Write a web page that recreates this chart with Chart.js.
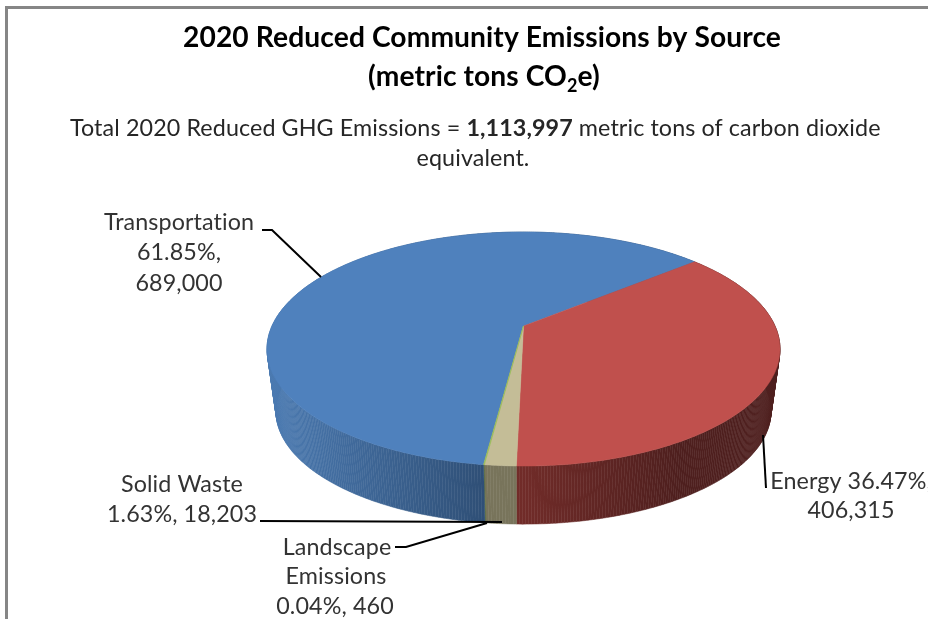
<!DOCTYPE html>
<html>
<head>
<meta charset="utf-8">
<title>2020 Reduced Community Emissions by Source</title>
<script src="https://cdn.jsdelivr.net/npm/chart.js@4/dist/chart.umd.min.js"></script>
<style>
  html, body { margin: 0; padding: 0; background: #fff; overflow: hidden; }
  #wrap { position: relative; width: 928px; height: 619px; overflow: hidden; }
  #frame { position: absolute; left: 5px; top: 6px; width: 940px; height: 640px; border: 3px solid #868686; }
  canvas { position: absolute; left: 0; top: 0; }
</style>
</head>
<body>
<div id="wrap">
  <div id="frame"></div>
  <canvas id="myChart" width="928" height="619"></canvas>
</div>
<script>
// data, clockwise from the red slice
const categories = ['Energy', 'Solid Waste', 'Landscape Emissions', 'Transportation'];
const emissions = [406315, 18203, 460, 689000];
const percents = ['36.47%', '1.63%', '0.04%', '61.85%'];

const topColors = ['#C0504D', '#C4BD97', '#9BBB59', '#4F81BD'];
const wallColors = [['#722c29', '#4e1f1e'], ['#78745b', '#78745b'], ['#5d6e34', '#5d6e34'], ['#2f4f76', '#4a79b0']];
const wallStops = [[517, 680], [484, 517], [484, 486], [484, 275]];

const fontName = 'Lato, "Open Sans", sans-serif';
const centerX = 523.5;
const topY = 326;
const bottomY = 389;
const depthScale = 0.965;

// the pie is seen in perspective, so the centre sits above the middle of the ellipse
function project(angle, scale, centerY) {
  const u = Math.cos(angle);
  const v = Math.sin(angle);
  const w = 1 - 0.1966 * v;
  return {
    x: centerX + scale * 251.5 * u / w,
    y: centerY + scale * 112.5 * v / w
  };
}

function traceRim(ctx, from, to) {
  const steps = Math.max(2, Math.ceil(Math.abs(to - from) / 0.01));
  for (let i = 0; i <= steps; i++) {
    const p = project(from + (to - from) * i / steps, 1, topY);
    ctx.lineTo(p.x, p.y);
  }
}

const pie3d = {
  id: 'pie3d',
  beforeDatasetsDraw(chart) {
    const ctx = chart.ctx;
    const arcs = chart.getDatasetMeta(0).data;
    ctx.save();

    // side walls first, one small quad per step so the silhouette stays closed
    arcs.forEach((arc, i) => {
      const grad = ctx.createLinearGradient(wallStops[i][0], 0, wallStops[i][1], 0);
      grad.addColorStop(0, wallColors[i][0]);
      grad.addColorStop(1, wallColors[i][1]);
      ctx.fillStyle = grad;
      ctx.strokeStyle = grad;
      ctx.lineWidth = 0.5;
      const steps = Math.max(1, Math.ceil((arc.endAngle - arc.startAngle) / 0.01));
      for (let s = 0; s < steps; s++) {
        const a = arc.startAngle + (arc.endAngle - arc.startAngle) * s / steps;
        const b = arc.startAngle + (arc.endAngle - arc.startAngle) * (s + 1) / steps;
        const p1 = project(a, 1, topY);
        const p2 = project(b, 1, topY);
        const p3 = project(b, depthScale, bottomY);
        const p4 = project(a, depthScale, bottomY);
        ctx.beginPath();
        ctx.moveTo(p1.x, p1.y);
        ctx.lineTo(p2.x, p2.y);
        ctx.lineTo(p3.x, p3.y);
        ctx.lineTo(p4.x, p4.y);
        ctx.closePath();
        ctx.fill();
        ctx.stroke();
      }
    });

    // top face, big slices first so the thin one stays visible
    const order = arcs.map((a, i) => i).sort((a, b) => emissions[b] - emissions[a]);
    order.forEach(i => {
      ctx.beginPath();
      ctx.moveTo(centerX, topY);
      traceRim(ctx, arcs[i].startAngle, arcs[i].endAngle);
      ctx.closePath();
      ctx.fillStyle = topColors[i];
      ctx.strokeStyle = topColors[i];
      ctx.lineWidth = i === 2 ? 0.7 : 0.5;
      ctx.fill();
      ctx.stroke();
    });

    ctx.restore();
    return false;
  }
};

function leader(ctx, points) {
  ctx.beginPath();
  points.forEach((p, i) => i ? ctx.lineTo(p[0], p[1]) : ctx.moveTo(p[0], p[1]));
  ctx.stroke();
}

const annotations = {
  id: 'annotations',
  afterDraw(chart) {
    const ctx = chart.ctx;
    const fmt = v => v.toLocaleString('en-US');
    ctx.save();
    ctx.letterSpacing = '0.1px'; // keeps the "ti" ligature out
    ctx.textBaseline = 'alphabetic';
    ctx.textAlign = 'center';

    // title
    ctx.fillStyle = '#000';
    ctx.font = 'bold 28.2px ' + fontName;
    ctx.fillText('2020 Reduced Community Emissions by Source', 482, 47);
    ctx.textAlign = 'left';
    ctx.fillText('(metric tons CO', 368, 86);
    let x = 368 + ctx.measureText('(metric tons CO').width;
    ctx.font = 'bold 18px ' + fontName;
    ctx.fillText('2', x, 92);
    x += ctx.measureText('2').width;
    ctx.font = 'bold 28.2px ' + fontName;
    ctx.fillText('e)', x, 86);

    // subtitle with the bold total
    ctx.fillStyle = '#262626';
    ctx.font = '23.3px ' + fontName;
    const before = 'Total 2020 Reduced GHG Emissions = ';
    const after = ' metric tons of carbon dioxide';
    ctx.fillText(before, 70, 136);
    x = 70 + ctx.measureText(before).width;
    ctx.font = 'bold 23.3px ' + fontName;
    ctx.fillText('1,113,997', x, 136);
    x += ctx.measureText('1,113,997').width;
    ctx.font = '23.3px ' + fontName;
    ctx.fillText(after, x, 136);
    ctx.textAlign = 'center';
    ctx.fillText('equivalent.', 473, 166);

    // data labels
    ctx.fillStyle = '#333';
    ctx.fillText(categories[3], 179, 230);
    ctx.fillText(percents[3] + ',', 179, 260);
    ctx.fillText(fmt(emissions[3]), 179, 291);

    ctx.fillText(categories[0] + ' ' + percents[0] + ',', 851, 489);
    ctx.fillText(fmt(emissions[0]), 851, 518);

    ctx.fillText(categories[1], 182, 492);
    ctx.fillText(percents[1] + ', ' + fmt(emissions[1]), 182, 522);

    const words = categories[2].split(' ');
    ctx.fillText(words[0], 337, 555);
    ctx.fillText(words[1], 336, 584);
    ctx.fillText(percents[2] + ', ' + fmt(emissions[2]), 335, 614);

    // leader lines
    ctx.strokeStyle = '#000';
    ctx.lineWidth = 2;
    leader(ctx, [[262, 230], [272, 230], [321, 277]]);
    leader(ctx, [[763, 435], [766, 488]]);
    leader(ctx, [[260, 521], [502, 522]]);
    leader(ctx, [[395, 547], [406, 547], [487, 523]]);
    ctx.restore();
  }
};

var ctx = document.getElementById('myChart').getContext('2d');
var myChart = new Chart(ctx, {
  type: 'pie',
  data: {
    labels: categories,
    datasets: [{
      data: emissions,
      backgroundColor: topColors,
      borderWidth: 0
    }]
  },
  options: {
    responsive: false,
    animation: false,
    rotation: 50,
    plugins: {
      legend: { display: false },
      tooltip: { enabled: false }
    }
  },
  plugins: [pie3d, annotations]
});
</script>
</body>
</html>
